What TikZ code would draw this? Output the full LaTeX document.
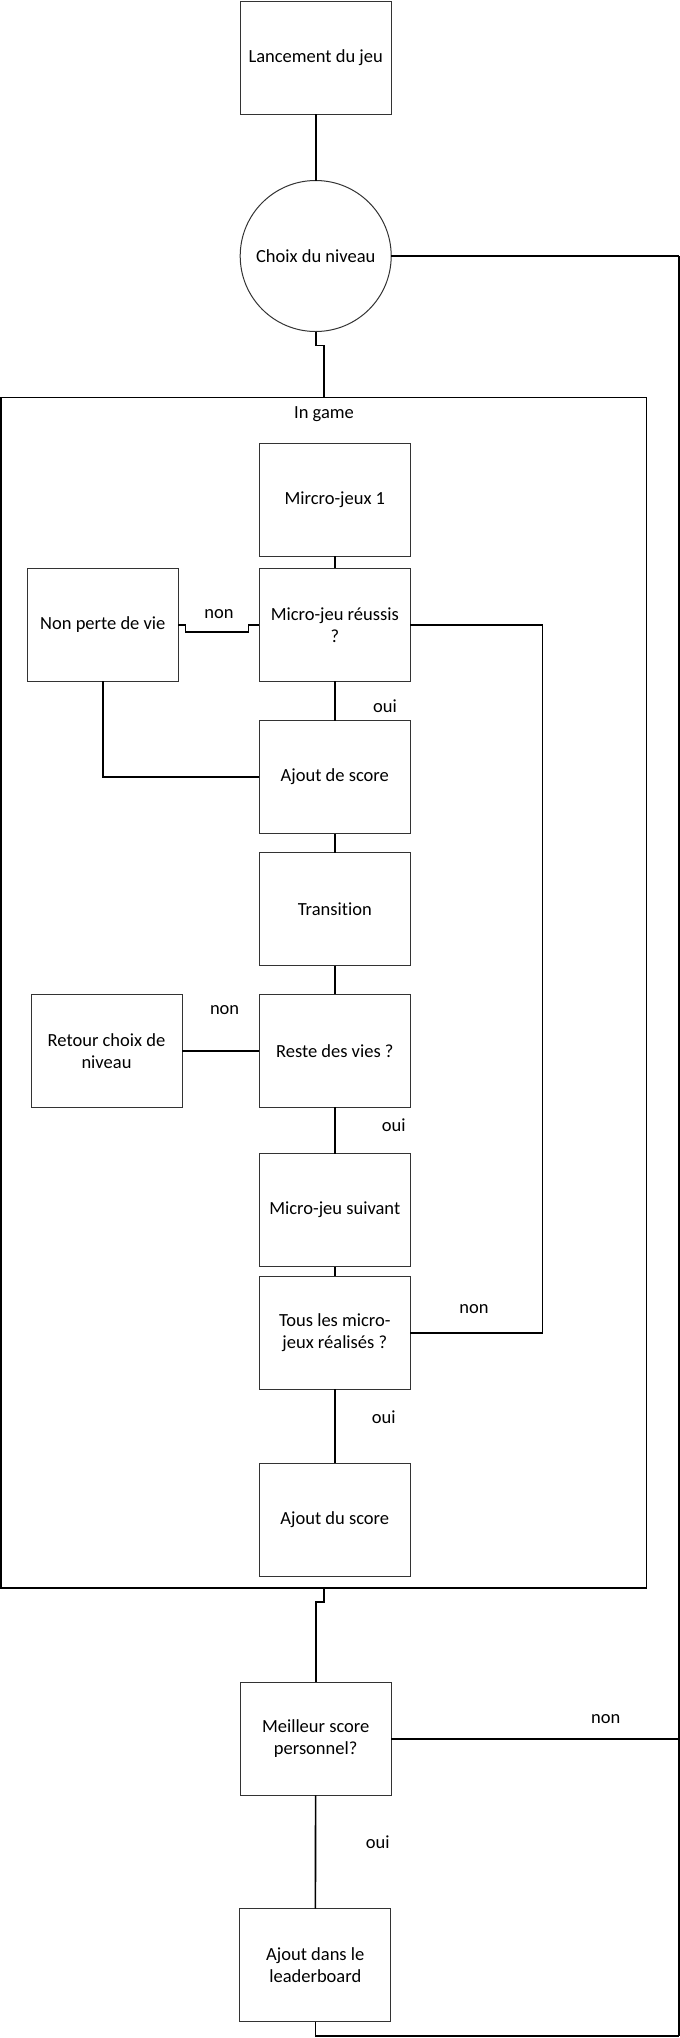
\documentclass[tikz,border=0pt]{standalone}
\usepackage{fontspec}
\setmainfont[Ligatures=NoCommon]{Carlito}
\begin{document}
\begin{tikzpicture}[x=1pt,y=-1pt,
  box/.style={draw=black!80,line width=1pt,rectangle,inner sep=0pt,outer sep=0pt,
    minimum width=151pt,minimum height=113pt,align=center,font=\fontsize{18.5}{22}\selectfont},
  lbl/.style={inner sep=0pt,font=\fontsize{18.5}{22}\selectfont},
  conn/.style={draw=black,line width=1.6pt}]
\useasboundingbox (0,0) rectangle (680,2038);
% nodes
\node[box] (lance) at (315.7,57.6) {Lancement du jeu};
\node[box,circle,minimum size=151pt] (choix) at (315.7,256) {Choix du niveau};
\node[draw=black,line width=1.6pt,rectangle,inner sep=0pt,outer sep=0pt,minimum width=645.3pt,minimum height=1190.4pt] (ingame) at (323.95,992.5) {};
\node[lbl] (ingamelbl) at (324,414.3) {In game};
\node[box] (m1) at (334.8,499.5) {Mircro-jeux 1};
\node[box] (reuss) at (334.8,624.8) {Micro-jeu réussis\\?};
\node[box] (nonperte) at (102.8,624.8) {Non perte de vie};
\node[box] (ajout1) at (334.8,777) {Ajout de score};
\node[box] (trans) at (334.8,909) {Transition};
\node[box] (reste) at (334.8,1050.8) {Reste des vies ?};
\node[box] (retour) at (106.5,1050.8) {Retour choix de\\niveau};
\node[box] (suivant) at (334.8,1210.2) {Micro-jeu suivant};
\node[box] (tous) at (334.8,1332.7) {Tous les micro-\\jeux réalisés ?};
\node[box] (ajout2) at (334.8,1519.5) {Ajout du score};
\node[box] (meilleur) at (315.7,1738.8) {Meilleur score\\personnel?};
\node[box] (leader) at (315.3,1965) {Ajout dans le\\leaderboard};
% coordinates
\coordinate (rt) at (678.7,256);
\coordinate (rm) at (678.7,1738.8);
\coordinate (rb) at (678.7,2035.7);
\coordinate (rloop) at (542.5,1332.7);
% connectors
\draw[conn] (lance) -- (choix);
\draw[conn] (choix.east) -- (rt);
\draw[conn] (rt) -- (rb);
\draw[conn] (choix.south) |- ++(4,14) -| (ingame.north);
\draw[conn] (m1) -- (reuss);
\draw[conn] (reuss.west) -- ++(-10.8,0) -- ++(0,7.3) -- ++(-62.9,0) -- ++(0,-7.3) -- (nonperte.east);
\draw[conn] (reuss.east) -| (rloop) -- (tous.east);
\draw[conn] (reuss) -- (ajout1);
\draw[conn] (nonperte.south) |- (ajout1.west);
\draw[conn] (ajout1) -- (trans);
\draw[conn] (trans) -- (reste);
\draw[conn] (retour.east) -- (reste.west);
\draw[conn] (reste) -- (suivant);
\draw[conn] (suivant) -- (tous);
\draw[conn] (tous) -- (ajout2);
\draw[conn] (ingame.south) -- ++(0,14) -| (meilleur.north);
\draw[conn] (meilleur.east) -- (rm);
\draw[conn] (meilleur) -- (leader);
\draw[conn] (leader.south) |- (rb);
% labels
\node[lbl] at (219,614.3) {non};
\node[lbl] at (385.1,706) {oui};
\node[lbl] at (224.6,1009.7) {non};
\node[lbl] at (393.8,1125.3) {oui};
\node[lbl] at (474,1309.3) {non};
\node[lbl] at (383.8,1417.3) {oui};
\node[lbl] at (605.8,1719.3) {non};
\node[lbl] at (377.7,1842.3) {oui};
\end{tikzpicture}
\end{document}
